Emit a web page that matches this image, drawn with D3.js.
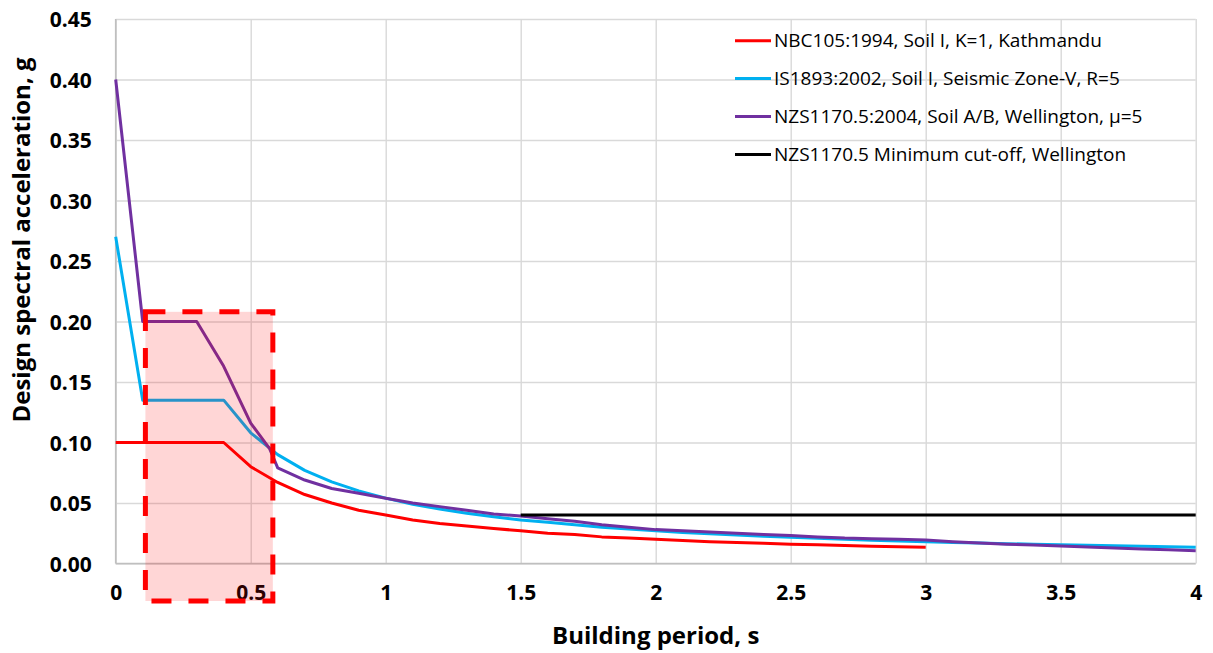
<!DOCTYPE html>
<html>
<head>
<meta charset="utf-8">
<script src="https://cdn.jsdelivr.net/npm/d3@7/dist/d3.min.js"></script>
<style>
  html, body { margin: 0; padding: 0; background: #fff; }
  svg { display: block; }
</style>
</head>
<body>
<svg id="chart" width="1213" height="653"></svg>
<script>
// ---------------- DATA ----------------
const seriesNames = [
  "NBC105:1994, Soil I, K=1, Kathmandu",
  "IS1893:2002, Soil I, Seismic Zone-V, R=5",
  "NZS1170.5:2004, Soil A/B, Wellington, \u03bc=5",
  "NZS1170.5 Minimum cut-off, Wellington"
];
const seriesColors = ["#FF0000", "#00B0F0", "#7030A0", "#000000"];

const nbcPeriod = [0, 0.1, 0.2, 0.3, 0.4, 0.5, 0.6, 0.7, 0.8, 0.9, 1.0, 1.1, 1.2, 1.3, 1.4, 1.5, 1.6, 1.7, 1.8, 1.9, 2.0, 2.1, 2.2, 2.3, 2.4, 2.5, 2.6, 2.7, 2.8, 2.9, 3.0];
const nbcAccel  = [0.100, 0.100, 0.100, 0.100, 0.100, 0.080, 0.067, 0.057, 0.050, 0.044, 0.040, 0.036, 0.033, 0.031, 0.029, 0.027, 0.025, 0.024, 0.022, 0.021, 0.020, 0.019, 0.018, 0.0174, 0.0167, 0.016, 0.0154, 0.0148, 0.0143, 0.0138, 0.0134];

const isPeriod = [0, 0.1, 0.2, 0.3, 0.4, 0.5, 0.6, 0.7, 0.8, 0.9, 1.0, 1.1, 1.2, 1.3, 1.4, 1.5, 1.6, 1.7, 1.8, 1.9, 2.0, 2.1, 2.2, 2.3, 2.4, 2.5, 2.6, 2.7, 2.8, 2.9, 3.0, 3.1, 3.2, 3.3, 3.4, 3.5, 3.6, 3.7, 3.8, 3.9, 4.0];
const isAccel  = [0.270, 0.135, 0.135, 0.135, 0.135, 0.108, 0.090, 0.077, 0.0675, 0.060, 0.054, 0.049, 0.045, 0.0415, 0.0386, 0.036, 0.034, 0.032, 0.030, 0.0285, 0.027, 0.0257, 0.0245, 0.0235, 0.0225, 0.0216, 0.0208, 0.0200, 0.0193, 0.0186, 0.0180, 0.0174, 0.0169, 0.0164, 0.0159, 0.0154, 0.0150, 0.0146, 0.0142, 0.0138, 0.0135];

const nzsPeriod = [0, 0.1, 0.2, 0.3, 0.4, 0.5, 0.57, 0.6, 0.7, 0.8, 0.9, 1.0, 1.1, 1.2, 1.3, 1.4, 1.5, 1.6, 1.7, 1.8, 1.9, 2.0, 2.1, 2.2, 2.3, 2.4, 2.5, 2.6, 2.7, 2.8, 2.9, 3.0, 3.1, 3.2, 3.3, 3.4, 3.5, 3.6, 3.7, 3.8, 3.9, 4.0];
const nzsAccel  = [0.400, 0.200, 0.200, 0.200, 0.163, 0.116, 0.095, 0.079, 0.069, 0.062, 0.058, 0.054, 0.050, 0.047, 0.044, 0.041, 0.0393, 0.037, 0.035, 0.032, 0.030, 0.028, 0.027, 0.026, 0.025, 0.024, 0.0232, 0.022, 0.021, 0.0205, 0.020, 0.0194, 0.018, 0.017, 0.016, 0.0153, 0.0145, 0.0137, 0.0128, 0.0120, 0.0113, 0.0106];

const cutoffPeriod = [1.5, 4.0];
const cutoffAccel  = [0.040, 0.040];

// highlighted region (period range, acceleration range)
const highlightPeriod = [0.11, 0.582];
const highlightAccel  = [-0.031, 0.208];

const xTickValues = [0, 0.5, 1, 1.5, 2, 2.5, 3, 3.5, 4];
const xTickLabels = ["0", "0.5", "1", "1.5", "2", "2.5", "3", "3.5", "4"];
const yTickValues = [0, 0.05, 0.10, 0.15, 0.20, 0.25, 0.30, 0.35, 0.40, 0.45];
const yTickLabels = ["0.00", "0.05", "0.10", "0.15", "0.20", "0.25", "0.30", "0.35", "0.40", "0.45"];

const xTitle = "Building period, s";
const yTitle = "Design spectral acceleration, g";

// ---------------- CHART ----------------
const svg = d3.select("#chart");
const plot = { left: 115.7, right: 1195.7, top: 19, bottom: 563.5 };

const x = d3.scaleLinear().domain([0, 4]).range([plot.left, plot.right]);
const y = d3.scaleLinear().domain([0, 0.45]).range([plot.bottom, plot.top]);

const FONT = "'Open Sans', 'Noto Sans', sans-serif";

// gridlines
const gridY = svg.append("g")
  .attr("transform", `translate(${plot.left},0)`)
  .call(d3.axisLeft(y).tickValues(yTickValues).tickSize(-(plot.right - plot.left)).tickFormat(""));
gridY.select(".domain").remove();
gridY.selectAll("line").attr("stroke", "#D9D9D9").attr("stroke-width", 1.4);

const gridX = svg.append("g")
  .attr("transform", `translate(0,${plot.bottom})`)
  .call(d3.axisBottom(x).tickValues(xTickValues).tickSize(-(plot.bottom - plot.top)).tickFormat(""));
gridX.select(".domain").remove();
gridX.selectAll("line").attr("stroke", "#D9D9D9").attr("stroke-width", 1.4);

// axis lines
svg.append("line").attr("x1", plot.left).attr("x2", plot.right)
  .attr("y1", y(0)).attr("y2", y(0)).attr("stroke", "#BFBFBF").attr("stroke-width", 1.6);
svg.append("line").attr("x1", x(0)).attr("x2", x(0))
  .attr("y1", plot.top).attr("y2", plot.bottom).attr("stroke", "#BFBFBF").attr("stroke-width", 1.6);

// tick labels
const yAxis = svg.append("g")
  .attr("transform", `translate(${plot.left - 24},0)`)
  .call(d3.axisLeft(y).tickValues(yTickValues).tickSize(0).tickPadding(0)
    .tickFormat((d, i) => yTickLabels[i]));
yAxis.select(".domain").remove();
yAxis.selectAll("text")
  .attr("font-family", FONT).attr("font-weight", 700).attr("font-size", 21)
  .attr("fill", "#000").attr("dy", "0.36em");

const xAxis = svg.append("g")
  .attr("transform", `translate(0,${plot.bottom + 22})`)
  .call(d3.axisBottom(x).tickValues(xTickValues).tickSize(0).tickPadding(0)
    .tickFormat((d, i) => xTickLabels[i]));
xAxis.select(".domain").remove();
xAxis.selectAll("text")
  .attr("font-family", FONT).attr("font-weight", 700).attr("font-size", 21)
  .attr("fill", "#000").attr("dy", "0.71em");

// axis titles
svg.append("text")
  .attr("x", (plot.left + plot.right) / 2).attr("y", 644)
  .attr("text-anchor", "middle")
  .attr("font-family", FONT).attr("font-weight", 700).attr("font-size", 24)
  .text(xTitle);

svg.append("text")
  .attr("transform", `translate(30,240) rotate(-90)`)
  .attr("text-anchor", "middle")
  .attr("font-family", FONT).attr("font-weight", 700).attr("font-size", 24)
  .text(yTitle);

// series
const series = [
  { period: nbcPeriod, accel: nbcAccel },
  { period: isPeriod, accel: isAccel },
  { period: nzsPeriod, accel: nzsAccel },
  { period: cutoffPeriod, accel: cutoffAccel }
];
const line = d3.line().x(d => x(d[0])).y(d => y(d[1]));

series.forEach((s, i) => {
  const pts = s.period.map((p, j) => [p, s.accel[j]]);
  svg.append("path")
    .datum(pts)
    .attr("d", line)
    .attr("fill", "none")
    .attr("stroke", seriesColors[i])
    .attr("stroke-width", 3)
    .attr("stroke-linejoin", "round");
});

// highlight rectangle
svg.append("rect")
  .attr("x", x(highlightPeriod[0]))
  .attr("y", y(highlightAccel[1]))
  .attr("width", x(highlightPeriod[1]) - x(highlightPeriod[0]))
  .attr("height", y(highlightAccel[0]) - y(highlightAccel[1]))
  .attr("fill", "rgba(255,0,0,0.16)")
  .attr("stroke", "#FF0000")
  .attr("stroke-width", 5)
  .attr("stroke-dasharray", "20,17");

// legend
const legend = svg.append("g");
const legendX = 735, legendY0 = 40.7, legendStep = 37.9;
seriesNames.forEach((name, i) => {
  const ly = legendY0 + i * legendStep;
  legend.append("line")
    .attr("x1", legendX).attr("x2", legendX + 36)
    .attr("y1", ly).attr("y2", ly)
    .attr("stroke", seriesColors[i]).attr("stroke-width", 3);
  legend.append("text")
    .attr("x", legendX + 39).attr("y", ly).attr("dy", "0.35em")
    .attr("font-family", FONT).attr("font-size", 19)
    .attr("fill", "#000")
    .text(name);
});
</script>
</body>
</html>
